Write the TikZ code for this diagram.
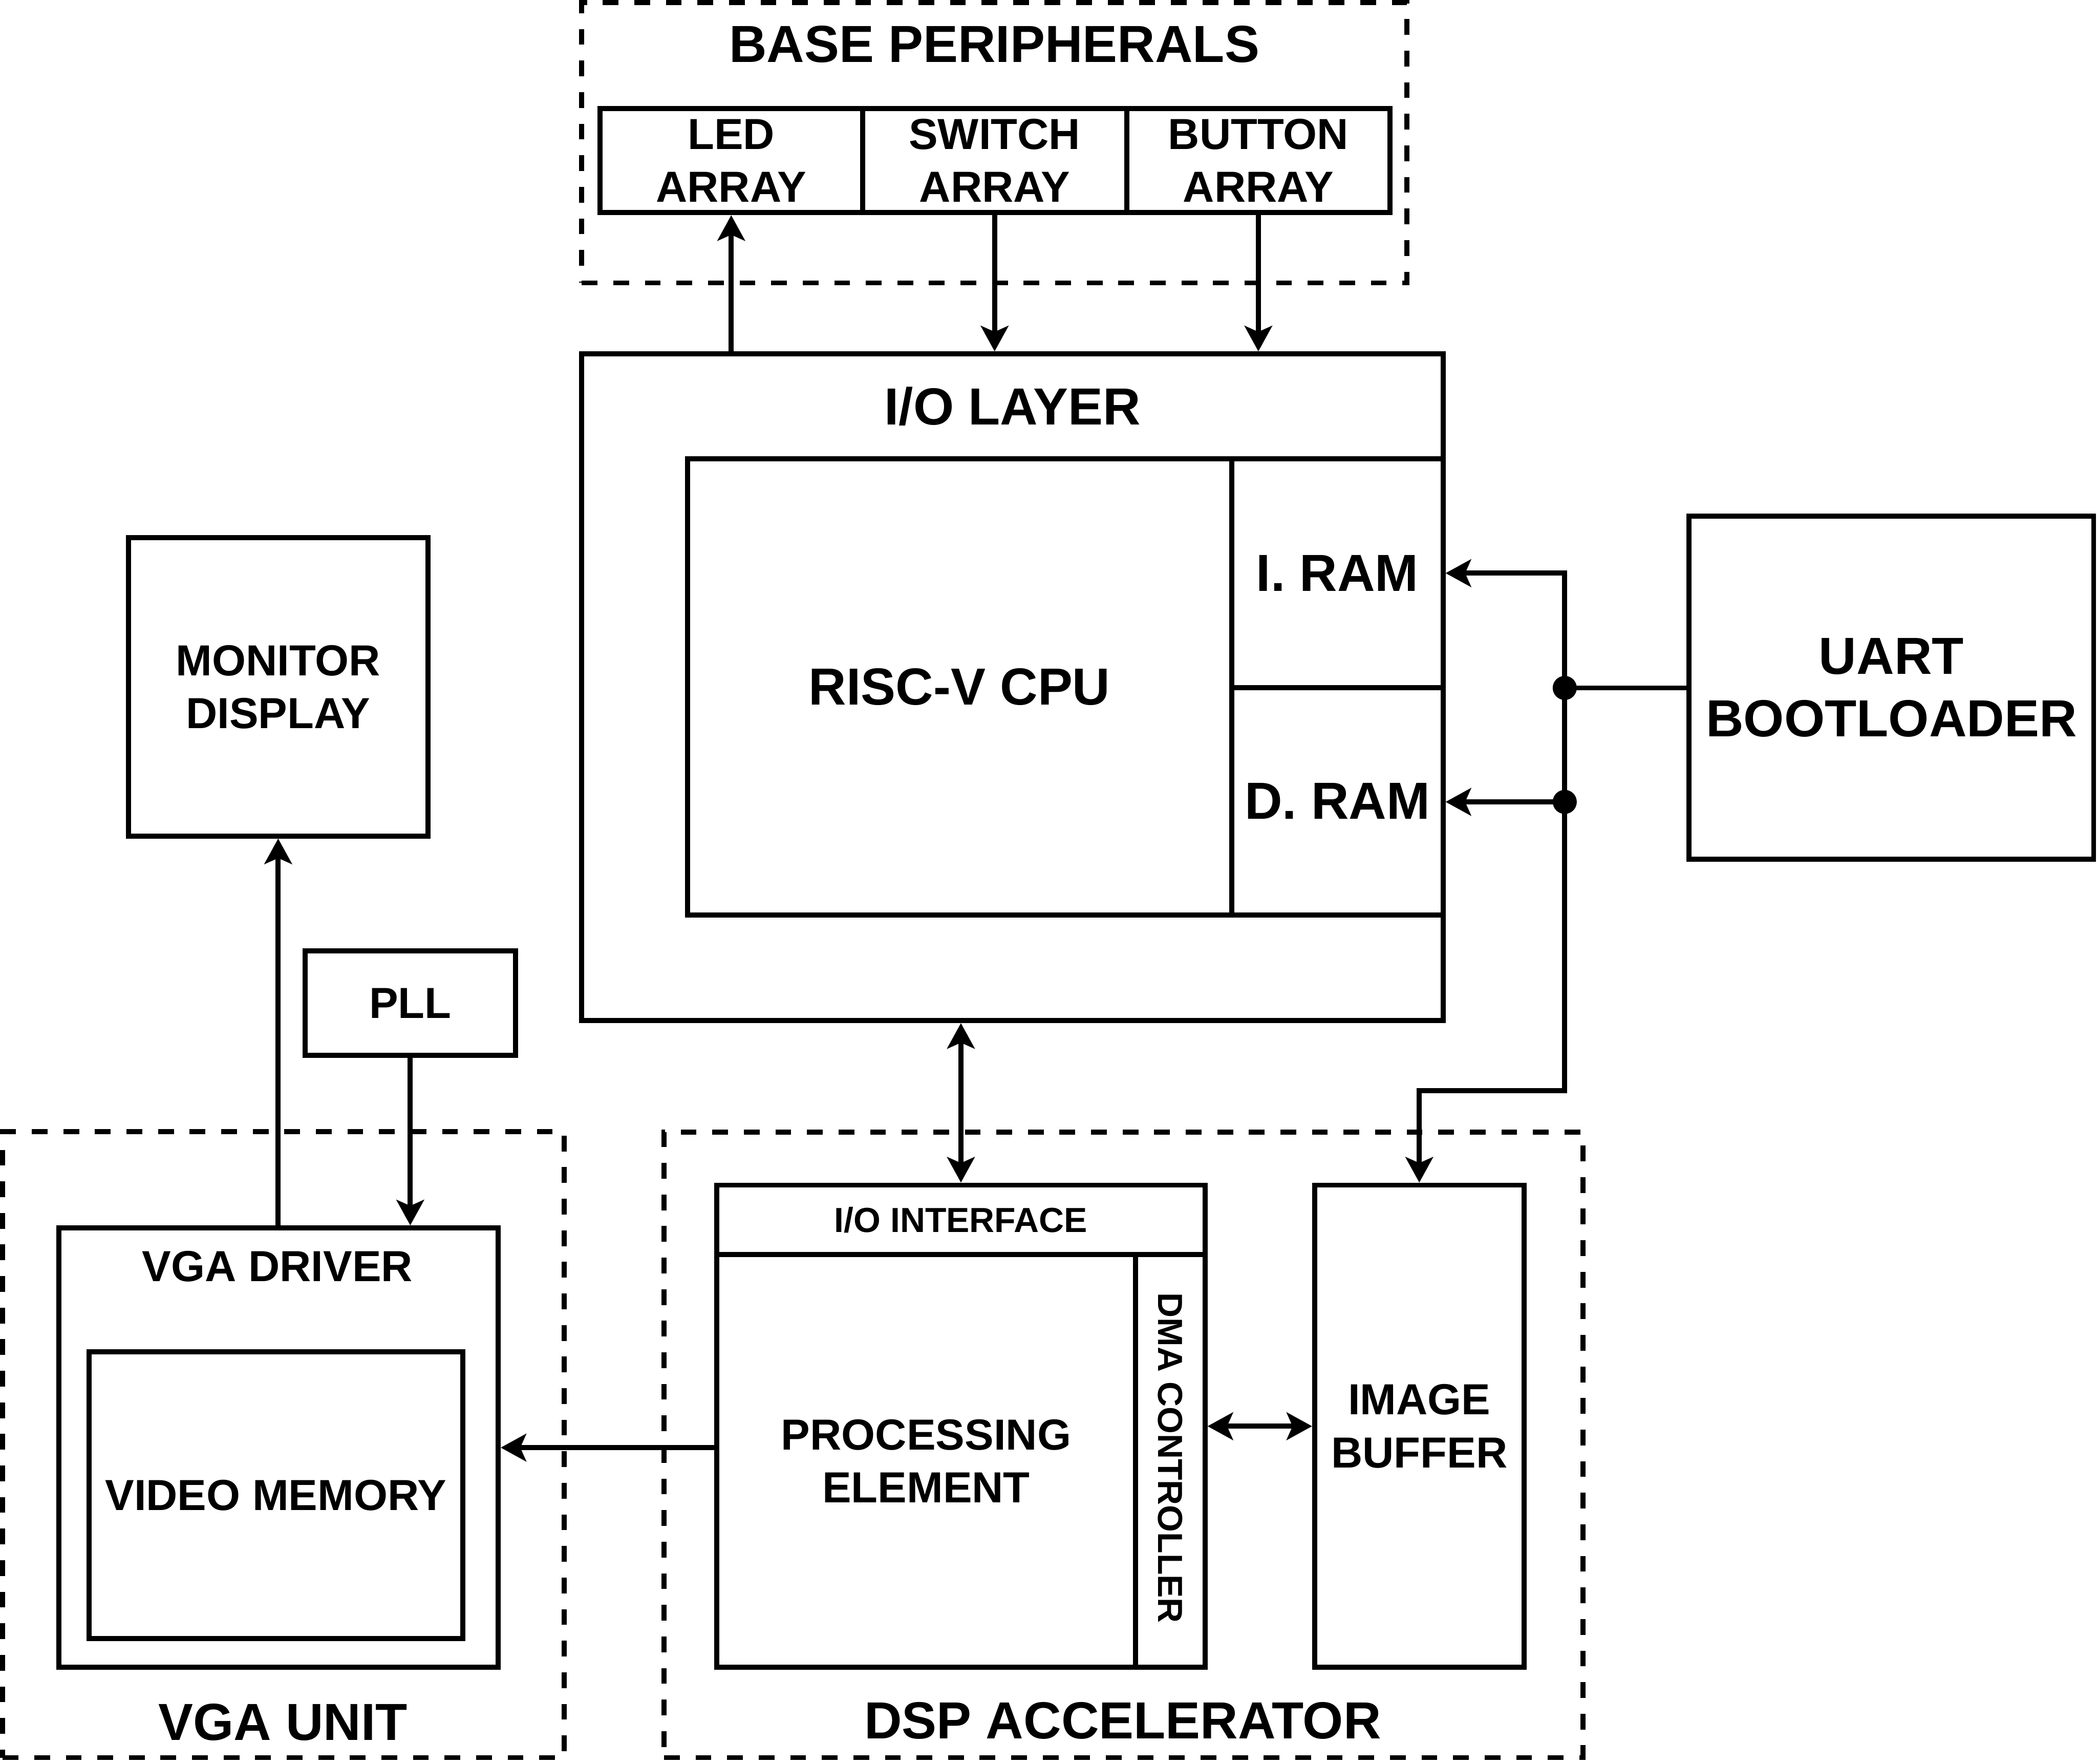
\documentclass[tikz,border=0pt]{standalone}
\usepackage{fontspec}
\setmainfont{Liberation Sans}
\usetikzlibrary{arrows.meta,calc}
\newcommand\fL{\bfseries\fontsize{39}{47}\selectfont}
\newcommand\fM{\bfseries\fontsize{32.5}{39.5}\selectfont}
\newcommand\fS{\bfseries\fontsize{26}{31}\selectfont}
\tikzset{
  lw/.style={line width=3.8pt},
  blk/.style={draw, lw, inner sep=0pt, align=center, font=\fM},
  dbox/.style={dash pattern=on 11.8pt off 11.8pt},
  lbl/.style={inner sep=0pt, outer sep=0pt, align=center},
  tipA/.tip={Stealth[length=19pt,width=20.5pt,inset=4.4pt]},
  arr/.style={lw, -tipA},
  darr/.style={lw, tipA-tipA},
  busdot/.style={circle, fill, inner sep=0pt, minimum size=18pt}
}
% #1 options, #2 name, #3 x1, #4 y1, #5 x2, #6 y2, #7 text
\newcommand\mybox[7][]{%
  \node[blk, minimum width={#5pt-#3pt}, minimum height={#6pt-#4pt}, #1]
    (#2) at ({(#3+#5)/2},{(#4+#6)/2}) {#7};}
\begin{document}
\begin{tikzpicture}[x=1pt,y=-1pt]
\useasboundingbox (0,0) rectangle (1568,1318.5);

% ---- base peripherals
\mybox[dbox]{basep}{435}{2}{1052}{211.5}{}
\node[lbl, font=\fL] (basepT) at (743.5,33) {BASE PERIPHERALS};
\mybox{led}{448.5}{81}{645}{159}{LED\\ARRAY}
\mybox{sw}{645}{81}{842.4}{159}{SWITCH\\ARRAY}
\mybox{btn}{842.4}{81}{1039.4}{159}{BUTTON\\ARRAY}

% ---- I/O layer
\mybox{iol}{435}{264.6}{1079}{763}{}
\node[lbl, font=\fL] (iolT) at (757,303.7) {I/O LAYER};
\mybox[font=\fL]{cpu}{514}{343}{921}{684}{RISC-V CPU}
\mybox[font=\fL]{iram}{921}{343}{1079}{514}{I. RAM}
\mybox[font=\fL]{dram}{921}{514}{1079}{684}{D. RAM}

% ---- UART
\mybox[font=\fL]{uart}{1263}{385.7}{1565.5}{642.5}{UART\\BOOTLOADER}

% ---- monitor / PLL
\mybox{mon}{96}{402}{320}{625}{MONITOR\\DISPLAY}
\mybox{pll}{228}{711}{385.5}{789}{PLL}

% ---- VGA unit
\mybox[dbox]{vgau}{2}{846}{422}{1314}{}
\node[lbl, font=\fL] (vgauT) at (211.5,1287.5) {VGA UNIT};
\mybox{vgad}{44}{918}{372.5}{1246.5}{}
\node[lbl, font=\fM] (vgadT) at (207.5,946.7) {VGA DRIVER};
\mybox{vmem}{66.5}{1010.5}{346}{1225}{VIDEO MEMORY}

% ---- DSP accelerator
\mybox[dbox]{dsp}{496.5}{846.5}{1183.5}{1314}{}
\node[lbl, font=\fL] (dspT) at (839.5,1286.5) {DSP ACCELERATOR};
\mybox[font=\fS]{ioif}{536}{886}{901}{938}{I/O INTERFACE}
\mybox{pe}{536}{938}{849}{1246.5}{PROCESSING\\ELEMENT}
\mybox{dma}{849}{938}{901}{1246.5}{}
\node[lbl, font=\fS, rotate=-90] (dmaT) at (875,1090) {DMA CONTROLLER};
\mybox{img}{983}{886}{1139.5}{1246.5}{IMAGE\\BUFFER}

% ---- peripheral connectors
\draw[arr] (iol.north -| led.south) -- (led.south);
\draw[arr] (sw.south) -- (sw.south |- iol.north);
\draw[arr] (btn.south) -- (btn.south |- iol.north);

% ---- bus from UART
\node[busdot] (d1) at (1170,514.3) {};
\node[busdot] (d2) at (1170,599.5) {};
\coordinate (bend) at (1170,815.5);
\draw[lw] (d1.center) -- (d1 -| uart.west);
\draw[arr] (d1.center) |- (iram.east);
\draw[lw] (d1.center) -- (d2.center);
\draw[arr] (d2.center) -- (d2 -| dram.east);
\draw[arr] (d2.center) -- (bend) -| (img.north);

% ---- other connectors
\draw[darr] (ioif.north |- iol.south) -- (ioif.north);
\draw[darr] (dma.east |- img.west) -- (img.west);
\draw[arr] (pe.west |- vgad.east) -- (vgad.east);
\draw[arr] (mon.south |- vgad.north) -- (mon.south);
\draw[arr] (pll.south) -- (pll.south |- vgad.north);
\end{tikzpicture}
\end{document}
